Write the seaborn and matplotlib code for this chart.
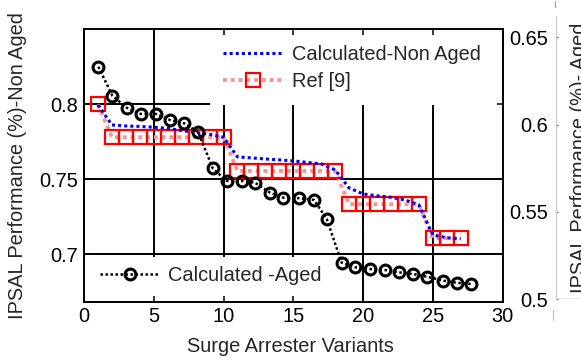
import matplotlib
matplotlib.use("Agg")
import matplotlib.pyplot as plt
import pandas as pd
import seaborn as sns
from matplotlib.patches import Rectangle
from matplotlib.lines import Line2D

# ---------------- data ----------------
variants = list(range(1, 28))
non_aged = [0.7995, 0.7862, 0.7855, 0.7852, 0.7847, 0.7839, 0.7825, 0.7812, 0.7799,
            0.7780, 0.7649, 0.7642, 0.7635, 0.7629, 0.7622, 0.7612, 0.7602, 0.7562,
            0.7442, 0.7402, 0.7389, 0.7379, 0.7362, 0.7329, 0.7129, 0.7109, 0.7102]
ref9 = [0.800, 0.778, 0.778, 0.778, 0.778, 0.778, 0.778, 0.778, 0.778,
        0.778, 0.7555, 0.7555, 0.7555, 0.7555, 0.7555, 0.7555, 0.7555, 0.7555,
        0.7333, 0.7333, 0.7333, 0.7333, 0.7333, 0.7333, 0.7107, 0.7107, 0.7107]
aged_x = [1.03, 2.03, 3.06, 4.06, 5.16, 6.16, 7.19, 8.19, 9.23, 10.23, 11.30, 12.26,
          13.33, 14.29, 15.41, 16.49, 17.40, 18.47, 19.43, 20.50, 21.58, 22.58,
          23.61, 24.57, 25.76, 26.72, 27.72]
aged = [0.6332, 0.6166, 0.6097, 0.6061, 0.6061, 0.6026, 0.6007, 0.5956, 0.5749,
        0.5677, 0.5677, 0.5667, 0.5610, 0.5581, 0.5578, 0.5568, 0.5459, 0.5208,
        0.5182, 0.5172, 0.5166, 0.5153, 0.5143, 0.5128, 0.5105, 0.5093, 0.5086]

xticks = [0, 5, 10, 15, 20, 25, 30]
left_ticks = [0.7, 0.75, 0.8]
left_ticklabels = ["0.7", "0.75", "0.8"]
right_ticks = [0.5, 0.55, 0.6, 0.65]
right_ticklabels = ["0.5", "0.55", "0.6", "0.65"]

label_non_aged = "Calculated-Non Aged"
label_ref = "Ref [9]"
label_aged = "Calculated -Aged"
xlabel = "Surge Arrester Variants"
ylabel_left = "IPSAL Performance (%)-Non Aged"
ylabel_right = "IPSAL Performance (%)- Aged"

# ---------------- style ----------------
sns.set_theme(style="white")
plt.rcParams["font.family"] = ["Liberation Sans", "DejaVu Sans"]
FS = 14.4
W, H = 581, 358

fig = plt.figure(figsize=(W / 100, H / 100), dpi=100)


def px_box(l, t, r, b):
    return [l / W, 1 - b / H, (r - l) / W, (b - t) / H]


ax = fig.add_axes(px_box(84, 29.3, 502.5, 301.5))

df_na = pd.DataFrame({"x": variants, "y": non_aged})
df_ref = pd.DataFrame({"x": variants, "y": ref9})
df_aged = pd.DataFrame({"x": aged_x, "y": aged})

sns.lineplot(data=df_ref, x="x", y="y", ax=ax, sort=False, errorbar=None,
             color=(0.97, 0.58, 0.58), lw=2.8, ls=(0, (1, 1)),
             marker="s", ms=9.4, mec="red", mfc="none", mew=1.6,
             label=label_ref, legend=False, zorder=3)
sns.lineplot(data=df_na, x="x", y="y", ax=ax, sort=False, errorbar=None,
             color="#0000ff", lw=2.2, ls=(0, (1, 1)),
             label=label_non_aged, legend=False, zorder=4)

ax2 = ax.twinx()
sns.lineplot(data=df_aged, x="x", y="y", ax=ax2, sort=False, errorbar=None,
             color="black", lw=1.8, ls=(0, (1, 1)),
             marker="o", ms=7.8, mec="black", mfc="none", mew=2.2,
             label=label_aged, legend=False, zorder=3)

# ---------------- main axes ----------------
ax.set_xlim(0, 30)
ax.set_ylim(0.6684, 0.85)
ax.set_xticks(xticks)
ax.set_yticks(left_ticks, left_ticklabels)
ax.set_axisbelow(False)
for v in xticks:
    ax.axvline(v, color="black", lw=1.4, zorder=0.6)
for v in left_ticks:
    ax.axhline(v, color="black", lw=1.4, zorder=0.6)
# white legend backgrounds
ax.add_patch(Rectangle((0.301, 0.722), 0.699, 0.278, transform=ax.transAxes,
                       fc="white", ec="none", zorder=0.8))
ax.add_patch(Rectangle((0.0, 0.0), 0.600, 0.165, transform=ax.transAxes,
                       fc="white", ec="none", zorder=0.8))

ax.tick_params(axis="both", direction="in", length=4.3, width=1.1,
               top=True, right=True, bottom=True, left=True,
               labelsize=FS, colors="black")
ax.tick_params(axis="x", pad=3.7)
ax.tick_params(axis="y", pad=4.1)
for s in ax.spines.values():
    s.set_color("black")
    s.set_linewidth(1.4)
    s.set_visible(True)

ax.set_xlabel(xlabel, fontsize=FS, va="baseline")
ax.xaxis.set_label_coords(0.493, -0.1844)
ax.set_ylabel(ylabel_left, fontsize=FS, va="baseline", ha="center")
ax.yaxis.set_label_coords(-0.1458, 0.498)

handles = ax.get_lines()
h_ref = [h for h in handles if h.get_label() == label_ref][0]
h_na = [h for h in handles if h.get_label() == label_non_aged][0]
ax.legend([h_na, h_ref], [label_non_aged, label_ref], loc="upper left",
          bbox_to_anchor=(0.3321, 0.9405), borderpad=0, borderaxespad=0,
          frameon=False, handlelength=3.05, handletextpad=0.38,
          labelspacing=0.385, fontsize=FS)

# ---------------- right (aged) axis ----------------
ax2.set_ylim(0.49857, 0.65464)
ax2.set_yticks(right_ticks, right_ticklabels)
for s in ["left", "top", "bottom"]:
    ax2.spines[s].set_visible(False)
sp = ax2.spines["right"]
sp.set_visible(True)
sp.set_position(("outward", 53 * 0.72))
sp.set_color("#c8c8c8")
sp.set_linewidth(0.8)
sp.set_bounds(0.5, 0.6625)
ax2.tick_params(axis="y", direction="out", length=1.2, width=1.0, color="#777777",
                pad=-6.8, labelsize=FS, labelcolor="black")
for t in ax2.yaxis.get_major_ticks():
    t.label2.set_horizontalalignment("right")
ax2.set_ylabel(ylabel_right, fontsize=FS, va="baseline", ha="center", rotation=90)
ax2.yaxis.set_label_coords(1.196, 0.527)

ax2.legend(loc="upper left", bbox_to_anchor=(0.0382, 0.130), borderpad=0,
           borderaxespad=0, frameon=False, handlelength=3.0, handletextpad=0.42,
           fontsize=FS)

# faint frame remnants near the right label
fig.add_artist(Line2D([556 / W, 1.0], [1 - 298 / H, 1 - 298 / H],
                      color="#e6e6e6", lw=0.8))
fig.add_artist(Line2D([555 / W, 555 / W], [1 - 1 / H, 1 - 7 / H],
                      color="#9a9a9a", lw=0.8))
fig.add_artist(Line2D([553 / W, 553 / W], [1 - 310 / H, 1 - 320 / H],
                      color="#c0c0c0", lw=0.8))

fig.savefig("out.png", dpi=100)
